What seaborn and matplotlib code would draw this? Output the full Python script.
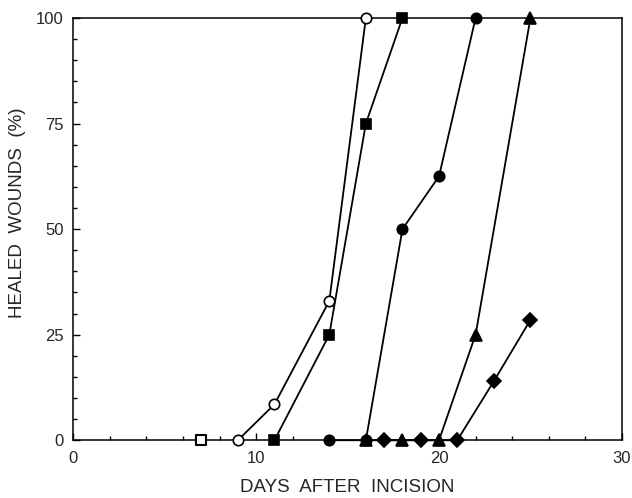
import numpy as np
import pandas as pd
import seaborn as sns
import matplotlib
matplotlib.use("Agg")
import matplotlib.pyplot as plt
from matplotlib.ticker import MultipleLocator

# days / percent healed
open_sq_days = [7]
open_sq_pct = [0]

open_circ_days = [9, 11, 14, 16]
open_circ_pct = [0, 8.5, 33, 100]

sq_days = [11, 14, 16, 18]
sq_pct = [0, 25, 75, 100]

circ_days = [14, 16, 18, 20, 22]
circ_pct = [0, 0, 50, 62.5, 100]

tri_days = [16, 18, 20, 22, 25]
tri_pct = [0, 0, 0, 25, 100]

dia_days = [17, 19, 21, 23, 25]
dia_pct = [0, 0, 0, 14, 28.5]

sns.set_style("ticks")
plt.rcParams['font.family'] = ['Liberation Sans', 'DejaVu Sans']

fig = plt.figure(figsize=(6.32, 4.98), dpi=100)
ax = fig.add_axes([0.116, 0.116, 0.868, 0.848])

series = [
    (open_circ_days, open_circ_pct, 'o', 'white', 7.5, 3),
    (sq_days, sq_pct, 's', 'black', 7.5, 3),
    (circ_days, circ_pct, 'o', 'black', 7.5, 3),
    (tri_days, tri_pct, '^', 'black', 8, 4),
    (dia_days, dia_pct, 'D', 'black', 7, 4),
]
for d, p, m, fc, ms, z in series:
    df = pd.DataFrame({'day': d, 'pct': p})
    sns.lineplot(data=df, x='day', y='pct', ax=ax, color='black', lw=1.3,
                 marker=m, markersize=ms, markerfacecolor=fc,
                 markeredgecolor='black', markeredgewidth=1.2,
                 clip_on=False, zorder=z)

df = pd.DataFrame({'day': open_sq_days, 'pct': open_sq_pct})
sns.scatterplot(data=df, x='day', y='pct', ax=ax, marker='s', s=55,
                facecolor='white', edgecolor='black', linewidth=1.5,
                clip_on=False, zorder=5)

ax.set_xlim(0, 30)
ax.set_ylim(0, 100)
ax.set_xticks([0, 10, 20, 30])
ax.set_yticks([0, 25, 50, 75, 100])
ax.xaxis.set_minor_locator(MultipleLocator(2))
ax.yaxis.set_minor_locator(MultipleLocator(5))
ax.tick_params(which='both', direction='in', labelsize=12, width=1, color='black')
ax.tick_params(axis='x', which='both', pad=8)
ax.tick_params(axis='y', which='both', pad=7)
ax.tick_params(which='major', length=5)
ax.tick_params(which='minor', length=3)
for s in ax.spines.values():
    s.set_linewidth(1.1)
    s.set_color('black')

ax.set_xlabel('DAYS  AFTER  INCISION', fontsize=13.5)
ax.set_ylabel('HEALED  WOUNDS  (%)', fontsize=13.5)
ax.xaxis.set_label_coords(0.499, -0.111)
ax.yaxis.set_label_coords(-0.101, 0.538)
ax.xaxis.label.set_va('center')
ax.yaxis.label.set_va('center')

fig.savefig('out.png', dpi=100)
